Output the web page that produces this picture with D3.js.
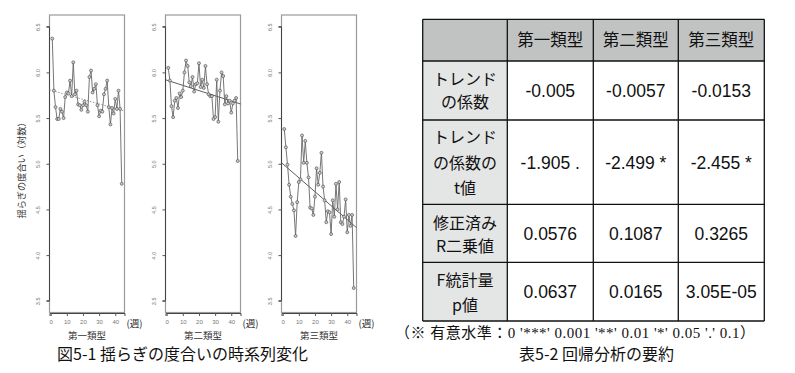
<!DOCTYPE html>
<html><head><meta charset="utf-8">
<script src="https://cdn.jsdelivr.net/npm/d3@7"></script>
<style>
html,body{margin:0;padding:0;background:#fff;}
svg{display:block;}
</style></head>
<body>
<svg id="c" width="795" height="373"></svg>
<script>
// ---- data ----
const panelNames = ["第一類型", "第二類型", "第三類型"];
const type1 = [6.37,5.80,5.62,5.49,5.49,5.60,5.57,5.50,5.73,5.78,5.77,5.91,5.74,6.11,5.76,5.80,5.65,5.64,5.59,5.64,5.68,5.64,5.57,5.95,6.02,5.78,5.82,5.87,5.64,5.52,5.58,5.57,5.76,5.82,5.91,5.62,5.43,5.61,5.55,5.71,5.60,5.80,5.60,4.78];
const type2 = [6.05,5.91,5.63,5.51,5.69,5.72,5.61,5.77,5.73,5.80,6.00,6.13,6.07,5.89,5.85,5.95,5.79,5.87,5.88,6.10,5.84,5.92,5.83,6.07,5.87,5.76,5.74,5.74,5.49,5.51,5.92,5.46,5.80,6.00,5.96,5.65,5.74,5.66,5.69,5.56,5.66,5.69,5.72,5.03];
const type3 = [5.38,5.18,4.99,4.77,4.64,4.56,4.49,4.21,4.58,4.80,4.83,5.31,5.01,5.25,5.01,4.85,4.52,4.51,4.44,4.64,4.95,4.77,4.90,5.12,4.75,4.60,4.36,4.48,4.47,4.23,4.60,4.42,4.78,4.50,4.80,4.36,4.34,4.42,4.61,4.25,4.44,4.32,4.44,3.64];
const trendIntercept = [5.805, 5.915, 5.00];
const trendSlope = [-0.005, -0.0057, -0.0153];
const yTicks = [3.5, 4.0, 4.5, 5.0, 5.5, 6.0, 6.5];
const xTicks = [0, 10, 20, 30, 40];
const yAxisTitle = "揺らぎの度合い（対数）";
const xUnit = "(週)";
const figCaption = "図5-1 揺らぎの度合いの時系列変化";

const tableHeader = ["", "第一類型", "第二類型", "第三類型"];
const rowLabels = [["トレンド","の係数"], ["トレンド","の係数の","t値"], ["修正済み","R二乗値"], ["F統計量","p値"]];
const rowValues = [["-0.005","-0.0057","-0.0153"], ["-1.905 .","-2.499 *","-2.455 *"], ["0.0576","0.1087","0.3265"], ["0.0637","0.0165","3.05E-05"]];
const footnote = "（※ 有意水準：0 '***' 0.001 '**' 0.01 '*' 0.05 '.' 0.1）";
const tableCaption = "表5-2 回帰分析の要約";

const series = [type1, type2, type3];

// ---- drawing ----
const svg = d3.select("#c");
const sans = "'Liberation Sans', Arial, 'Noto Sans CJK JP', sans-serif";
const cjk = "'Noto Sans CJK JP', 'Liberation Sans', sans-serif";

const panelLeft = [49.5, 165.5, 281.5];
const pw = 75, pTop = 15, pBottom = 312.5;
const y = d3.scaleLinear().domain([3.372, 6.628]).range([pBottom, pTop]);

series.forEach((vals, p) => {
  const x = d3.scaleLinear().domain([-0.72, 45.72]).range([panelLeft[p], panelLeft[p] + pw]);
  const g = svg.append("g");
  g.append("rect").attr("x", panelLeft[p]).attr("y", pTop).attr("width", pw).attr("height", pBottom - pTop)
    .attr("fill", "none").attr("stroke", "#9a9a9a").attr("stroke-width", 1.2);
  const ya = g.append("g").attr("transform", `translate(${panelLeft[p]},0)`)
    .call(d3.axisLeft(y).tickValues(yTicks).tickSize(3).tickFormat(d3.format(".1f")));
  ya.select(".domain").attr("stroke", "#444").attr("d", `M-3,${y(3.5)}H0V${y(6.5)}H-3`);
  ya.selectAll(".tick line").attr("stroke", "#555");
  ya.selectAll(".tick text").attr("fill", "#777").attr("font-size", 5.5).attr("font-family", sans)
    .attr("x", 0).attr("y", 0).attr("dy", null).attr("text-anchor", "middle")
    .attr("transform", "translate(-9.5,0) rotate(-90)");
  const xa = g.append("g").attr("transform", `translate(0,${pBottom + 0.5})`)
    .call(d3.axisBottom(x).tickValues(xTicks).tickSize(3));
  xa.select(".domain").attr("stroke", "#444");
  xa.selectAll(".tick line").attr("stroke", "#555");
  xa.selectAll(".tick text").attr("fill", "#777").attr("font-size", 6).attr("font-family", sans).attr("dy", "0.9em");
  g.append("text").attr("x", panelLeft[p] + pw + 2).attr("y", 327).attr("font-size", 9.5)
    .attr("font-family", cjk).attr("fill", "#222").text(xUnit);
  g.append("text").attr("x", panelLeft[p] + pw / 2).attr("y", 339).attr("text-anchor", "middle")
    .attr("font-size", 9.5).attr("font-family", cjk).attr("fill", "#333").text(panelNames[p]);
  g.append("line")
    .attr("x1", x(-0.72)).attr("y1", y(trendIntercept[p] + trendSlope[p] * -0.72))
    .attr("x2", x(45.72)).attr("y2", y(trendIntercept[p] + trendSlope[p] * 45.72))
    .attr("stroke", p === 0 ? "#888" : "#333").attr("stroke-width", p === 0 ? 0.9 : 0.8)
    .attr("stroke-dasharray", p === 0 ? "1.5,1.5" : null);
  const line = d3.line().x((d, i) => x(i + 1)).y(d => y(d));
  g.append("path").datum(vals).attr("d", line).attr("fill", "none").attr("stroke", "#666").attr("stroke-width", 0.9);
  g.selectAll("circle").data(vals).join("circle")
    .attr("cx", (d, i) => x(i + 1)).attr("cy", d => y(d)).attr("r", 1.5)
    .attr("fill", "#ccc").attr("stroke", "#444").attr("stroke-width", 0.6);
});

svg.append("text").attr("transform", `translate(25,168) rotate(-90)`).attr("text-anchor", "middle")
  .attr("font-size", 9.2).attr("font-family", cjk).attr("fill", "#333").text(yAxisTitle);

svg.append("text").attr("x", 182.5).attr("y", 360).attr("text-anchor", "middle")
  .attr("font-size", 16).attr("font-family", cjk).attr("fill", "#111").text(figCaption);

// ---- table ----
const colX = [422.7, 507.3, 593.3, 678.3, 764.3];
const rowY = [19.3, 61, 120, 204.3, 262.3, 321];
const tg = svg.append("g");
tg.append("rect").attr("x", colX[0]).attr("y", rowY[0]).attr("width", colX[4] - colX[0]).attr("height", rowY[1] - rowY[0]).attr("fill", "#c1c3c3");
tg.append("rect").attr("x", colX[0]).attr("y", rowY[1]).attr("width", colX[1] - colX[0]).attr("height", rowY[5] - rowY[1]).attr("fill", "#e4e5e5");
rowY.forEach(v => tg.append("line").attr("x1", colX[0]).attr("x2", colX[4]).attr("y1", v).attr("y2", v).attr("stroke", "#111").attr("stroke-width", 1.3));
colX.forEach(v => tg.append("line").attr("x1", v).attr("x2", v).attr("y1", rowY[0]).attr("y2", rowY[5]).attr("stroke", "#111").attr("stroke-width", 1.3));
tableHeader.forEach((h, i) => {
  if (i === 0) return;
  tg.append("text").attr("x", (colX[i] + colX[i + 1]) / 2).attr("y", 40.5).attr("dy", "0.35em")
    .attr("text-anchor", "middle").attr("font-size", 16.5).attr("font-family", cjk).attr("fill", "#111").text(h);
});
const labelLineY = [[79.5, 102.5], [137.5, 163.3, 188.5], [223.3, 246.7], [280.5, 305]];
const valueY = [90.5, 163.3, 233.5, 291.5];
rowLabels.forEach((lines, r) => {
  lines.forEach((t, k) => {
    tg.append("text").attr("x", (colX[0] + colX[1]) / 2).attr("y", labelLineY[r][k]).attr("dy", "0.35em")
      .attr("text-anchor", "middle").attr("font-size", 16).attr("font-family", cjk).attr("fill", "#111").text(t);
  });
  rowValues[r].forEach((v, c) => {
    tg.append("text").attr("x", (colX[c + 1] + colX[c + 2]) / 2).attr("y", valueY[r]).attr("dy", "0.35em")
      .attr("text-anchor", "middle").attr("font-size", 17.5).attr("font-family", sans).attr("fill", "#111").text(v);
  });
});
svg.append("text").attr("x", 395).attr("y", 332.5).attr("dy", "0.35em").attr("font-size", 15)
  .attr("font-family", "'Liberation Serif', 'Times New Roman', 'Noto Sans CJK JP', serif").attr("fill", "#111")
  .attr("textLength", 360).attr("lengthAdjust", "spacing").text(footnote);
svg.append("text").attr("x", 596.5).attr("y", 360).attr("text-anchor", "middle").attr("font-size", 16)
  .attr("font-family", cjk).attr("fill", "#111").text(tableCaption);
</script>
</body></html>
